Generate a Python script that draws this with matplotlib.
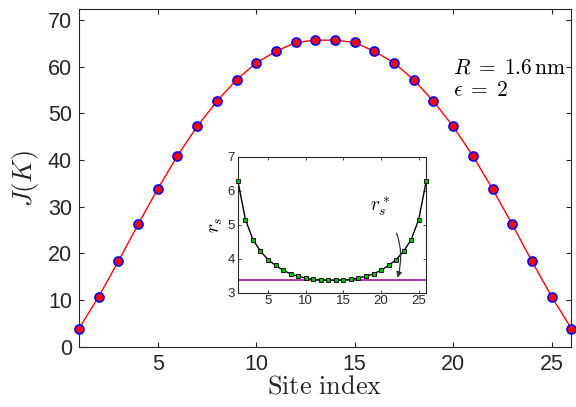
import numpy as np
import matplotlib
matplotlib.use("Agg")
import matplotlib.pyplot as plt

plt.rcParams.update({
    "font.family": "Liberation Sans",
    "mathtext.fontset": "cm",
    "xtick.direction": "in",
    "ytick.direction": "in",
    "xtick.top": True,
    "ytick.right": True,
    "axes.edgecolor": "#262626",
    "xtick.color": "#262626",
    "ytick.color": "#262626",
})

# main panel: coupling J(K) vs site index
site = np.arange(1, 27)
J_half = [3.9, 10.7, 18.3, 26.2, 33.8, 40.9, 47.2, 52.6, 57.2, 60.85, 63.3, 65.2, 65.7]
J = J_half + J_half[::-1]

# inset: r_s vs site index
rs_half = [6.28, 5.15, 4.56, 4.22, 3.97, 3.80, 3.66, 3.55, 3.48, 3.43, 3.39, 3.37, 3.36]
rs = rs_half + rs_half[::-1]
rs_star = 3.36

fig = plt.figure(figsize=(5.76, 4.07), dpi=100)
ax = fig.add_axes([0.137, 0.148, 0.855, 0.829])

ax.plot(site, J, color="red", lw=1.0, zorder=2)
ax.plot(site, J, ls="none", marker="o", ms=6.5, mfc="red", mec="blue",
        mew=1.2, zorder=3, clip_on=False)

ax.set_xlim(1, 26)
ax.set_ylim(0, 72.3)
ax.set_xticks([5, 10, 15, 20, 25])
ax.set_yticks(np.arange(0, 71, 10))
ax.tick_params(labelsize=15.5, length=3.6, width=0.8, pad=5)
ax.set_xlabel(r"$\mathrm{Site\ index}$", fontsize=19, color="#262626", labelpad=0)
ax.set_ylabel(r"$J(K)$", fontsize=19, color="#262626", labelpad=5)

ax.text(20.0, 58.6, r"$R\;=\;1.6\,\mathrm{nm}$", fontsize=15.5, va="baseline", ha="left")
ax.text(20.0, 53.8, r"$\epsilon\;=\;2$", fontsize=15.5, va="baseline", ha="left")

# inset
axin = fig.add_axes([0.413, 0.281, 0.327, 0.334])
axin.plot(site, rs, color="black", lw=1.0, zorder=2)
axin.plot(site, rs, ls="none", marker="s", ms=2.6, mfc="#00c000", mec="black",
          mew=0.6, zorder=3, clip_on=False)
axin.axhline(rs_star, color="#a0149c", lw=1.2, zorder=1)
axin.set_xlim(1, 26)
axin.set_ylim(3, 7)
axin.set_xticks([5, 10, 15, 20, 25])
axin.set_yticks([3, 4, 5, 6, 7])
axin.tick_params(labelsize=9.5, length=2.5, width=0.6, pad=2)
axin.set_ylabel(r"$r_s$", fontsize=14, labelpad=2)
axin.annotate(r"$r_s^*$", xy=(22.2, 3.44), xytext=(19.9, 5.5),
              fontsize=14, ha="center", va="center",
              arrowprops=dict(arrowstyle="-|>", color="#333333", lw=0.9,
                              mutation_scale=8,
                              connectionstyle="arc3,rad=-0.28",
                              shrinkA=9, shrinkB=0))

fig.savefig("out.png", dpi=100)
